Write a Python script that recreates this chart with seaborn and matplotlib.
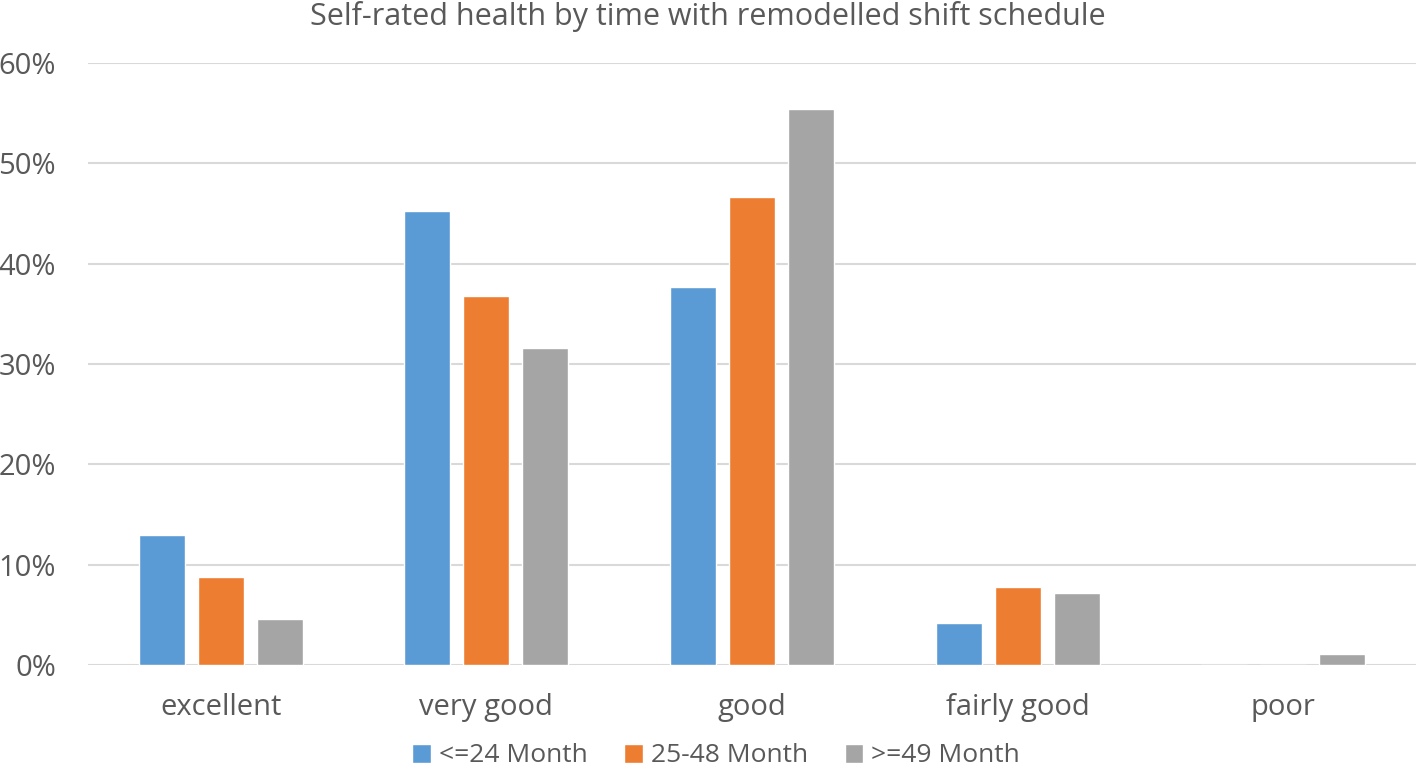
import matplotlib
matplotlib.use("Agg")
import matplotlib.pyplot as plt
import seaborn as sns
import pandas as pd
from matplotlib.ticker import FuncFormatter

categories = ["excellent", "very good", "good", "fairly good", "poor"]
groups = ["<=24 Month", "25-48 Month", ">=49 Month"]
v_24 = [13.0, 45.2, 37.7, 4.2, 0.0]
v_48 = [8.8, 36.8, 46.6, 7.8, 0.0]
v_49 = [4.6, 31.6, 55.4, 7.2, 1.1]
colors = ["#5B9BD5", "#ED7D31", "#A5A5A5"]

rows = []
for g, vals in zip(groups, [v_24, v_48, v_49]):
    for c, v in zip(categories, vals):
        rows.append({"cat": c, "grp": g, "val": v})
df = pd.DataFrame(rows)

sns.set_style("white")
plt.rcParams["font.family"] = ["Open Sans", "DejaVu Sans"]
txt = "#595959"

fig = plt.figure(figsize=(14.16, 7.68), dpi=100)
ax = fig.add_axes([88/1416, 1-665/768, 1-88/1416, (665-63)/768])
sns.barplot(data=df, x="cat", y="val", hue="grp", order=categories, hue_order=groups,
            palette=colors, width=0.667, gap=0.22, ax=ax, legend=True, saturation=1)
ax.set_xlim(-0.5, 4.5)
ax.set_ylim(0, 60)
ax.set_yticks(range(0, 61, 10))
ax.yaxis.set_major_formatter(FuncFormatter(lambda v, p: f"{int(v)}%"))
ax.grid(axis="y", color="#D9D9D9", linewidth=1.5)
ax.set_axisbelow(True)
for s in ["top", "right", "left", "bottom"]:
    ax.spines[s].set_visible(False)
ax.set_xlabel("")
ax.set_ylabel("")
ax.tick_params(axis="both", length=0, labelsize=21, colors=txt)
ax.tick_params(axis="x", pad=20)
ax.tick_params(axis="y", pad=23)
fig.text(0.5, 1 - 17/768, "Self-rated health by time with remodelled shift schedule",
         fontsize=22, color=txt, ha="center", va="center")
leg = ax.legend(loc="center", bbox_to_anchor=(716/1416, 1 - 756/768), bbox_transform=fig.transFigure,
                ncol=3, frameon=False, fontsize=19, handlelength=0.7, handleheight=0.7,
                handletextpad=0.3, columnspacing=1.4, labelcolor=txt, borderpad=0)
fig.savefig("out.png", dpi=100)
